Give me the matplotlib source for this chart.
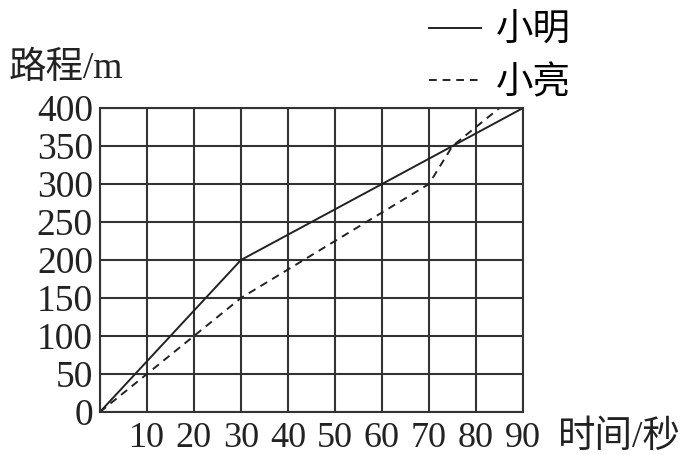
import matplotlib.pyplot as plt

# data
ming_t = [0, 30, 90]
ming_d = [0, 200, 400]
liang_t = [0, 30, 70, 75, 85]
liang_d = [0, 150, 300, 350, 400]
x_ticks = [10, 20, 30, 40, 50, 60, 70, 80, 90]
y_ticks = [0, 50, 100, 150, 200, 250, 300, 350, 400]

fonts = ['Liberation Serif', 'Noto Sans CJK SC']
plt.rcParams['font.family'] = fonts

fig = plt.figure(figsize=(6.89, 4.55), dpi=100)
ax = fig.add_axes([0.145, 0.0945, 0.614, 0.668])

ax.plot(ming_t, ming_d, color='#222222', lw=1.4, label='小明')
ax.plot(liang_t, liang_d, color='#222222', lw=1.4, linestyle=(0, (4, 3)), label='小亮')

ax.set_xlim(0, 90)
ax.set_ylim(0, 400)
ax.set_xticks(x_ticks)
ax.set_yticks(y_ticks)
ax.set_xticks(range(0, 91, 10), minor=True)
ax.grid(True, which='both', color='#333333', lw=1.5)
ax.tick_params(which='both', length=0, colors='#222222')
ax.tick_params(axis='x', pad=7, labelsize=26)
ax.tick_params(axis='y', pad=5, labelsize=27)
for s in ax.spines.values():
    s.set_color('#333333')
    s.set_linewidth(1.5)

fig.text(0.013, 0.848, '路程/m', fontsize=27, va='center', ha='left', color='#222222')
fig.text(0.988, 0.038, '时间/秒', fontsize=27, va='center', ha='right', color='#222222')

ax.legend(frameon=False, fontsize=27, loc='upper right',
          bbox_to_anchor=(0.84, 0.985), bbox_transform=fig.transFigure,
          borderaxespad=0.0, borderpad=0.2,
          handlelength=1.4, handletextpad=0.4, labelspacing=0.45)

fig.savefig('out.png', dpi=100)
